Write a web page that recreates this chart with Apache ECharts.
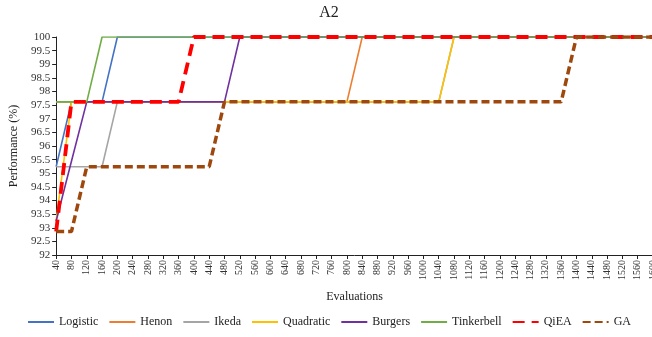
<!DOCTYPE html>
<html>
<head>
<meta charset="utf-8">
<script src="https://cdn.jsdelivr.net/npm/echarts@6/dist/echarts.min.js"></script>
<style>html,body{margin:0;padding:0;background:#fff;overflow:hidden;width:652px;height:337px}#c{width:658px;height:337px}</style>
</head>
<body>
<div id="c"></div>
<script>
const categories = ['40','80','120','160','200','240','280','320','360','400','440','480','520','560','600','640','680','720','760','800','840','880','920','960','1000','1040','1080','1120','1160','1200','1240','1280','1320','1360','1400','1440','1480','1520','1560','1600'];
const logistic   = [95.24,97.62,97.62,97.62,100,100,100,100,100,100,100,100,100,100,100,100,100,100,100,100,100,100,100,100,100,100,100,100,100,100,100,100,100,100,100,100,100,100,100,100];
const henon      = [97.62,97.62,97.62,97.62,97.62,97.62,97.62,97.62,97.62,97.62,97.62,97.62,97.62,97.62,97.62,97.62,97.62,97.62,97.62,97.62,100,100,100,100,100,100,100,100,100,100,100,100,100,100,100,100,100,100,100,100];
const ikeda      = [95.24,95.24,95.24,95.24,97.62,97.62,97.62,97.62,97.62,97.62,97.62,97.62,97.62,97.62,97.62,97.62,97.62,97.62,97.62,97.62,97.62,97.62,97.62,97.62,97.62,97.62,100,100,100,100,100,100,100,100,100,100,100,100,100,100];
const quadratic  = [93.25,97.62,97.62,97.62,97.62,97.62,97.62,97.62,97.62,97.62,97.62,97.62,97.62,97.62,97.62,97.62,97.62,97.62,97.62,97.62,97.62,97.62,97.62,97.62,97.62,97.62,100,100,100,100,100,100,100,100,100,100,100,100,100,100];
const burgers    = [93.25,95.44,97.62,97.62,97.62,97.62,97.62,97.62,97.62,97.62,97.62,97.62,100,100,100,100,100,100,100,100,100,100,100,100,100,100,100,100,100,100,100,100,100,100,100,100,100,100,100,100];
const tinkerbell = [97.62,97.62,97.62,100,100,100,100,100,100,100,100,100,100,100,100,100,100,100,100,100,100,100,100,100,100,100,100,100,100,100,100,100,100,100,100,100,100,100,100,100];
const qiea       = [92.86,97.62,97.62,97.62,97.62,97.62,97.62,97.62,97.62,100,100,100,100,100,100,100,100,100,100,100,100,100,100,100,100,100,100,100,100,100,100,100,100,100,100,100,100,100,100,100];
const ga         = [92.86,92.86,95.24,95.24,95.24,95.24,95.24,95.24,95.24,95.24,95.24,97.62,97.62,97.62,97.62,97.62,97.62,97.62,97.62,97.62,97.62,97.62,97.62,97.62,97.62,97.62,97.62,97.62,97.62,97.62,97.62,97.62,97.62,97.62,100,100,100,100,100,100];

const FONT = '"Liberation Serif", "Times New Roman", serif';
function solid(name, data, color) {
  return {name, type: 'line', data, symbol: 'none', showSymbol: false, color,
    lineStyle: {color, width: 1.6}};
}
const chart = echarts.init(document.getElementById('c'), null, {renderer: 'canvas'});
chart.setOption({
  animation: false,
  backgroundColor: '#fff',
  textStyle: {fontFamily: FONT},
  title: {text: 'A2', left: 'center', top: 0,
    textStyle: {fontFamily: FONT, fontSize: 16, fontWeight: 'normal', color: '#222'}},
  grid: {left: 55, width: 598, top: 37, height: 218, containLabel: false},
  xAxis: {
    type: 'category', data: categories, boundaryGap: false,
    name: 'Evaluations', nameLocation: 'middle', nameGap: 36,
    nameTextStyle: {fontFamily: FONT, fontSize: 12, color: '#222'},
    axisLine: {lineStyle: {color: '#222', width: 1}},
    axisTick: {show: true, interval: 0, alignWithLabel: true, length: 4, lineStyle: {color: '#222'}},
    axisLabel: {interval: 0, rotate: 90, fontFamily: FONT, fontSize: 10, color: '#333', margin: 5},
    splitLine: {show: false}
  },
  yAxis: {
    type: 'value', min: 92, max: 100, interval: 0.5,
    name: 'Performance (%)', nameLocation: 'middle', nameGap: 36, nameRotate: 90,
    nameTextStyle: {fontFamily: FONT, fontSize: 12, color: '#222'},
    axisLine: {show: true, lineStyle: {color: '#222', width: 1}},
    axisTick: {show: true, length: 4, lineStyle: {color: '#222'}},
    axisLabel: {fontFamily: FONT, fontSize: 11, color: '#333', margin: 6},
    splitLine: {show: false}
  },
  legend: {
    bottom: 4, left: 'center', itemWidth: 26, itemHeight: 10, itemGap: 10,
    itemStyle: {opacity: 0},
    textStyle: {fontFamily: FONT, fontSize: 12, color: '#222'},
    data: ['Logistic','Henon','Ikeda','Quadratic','Burgers','Tinkerbell','QiEA','GA']
  },
  series: [
    solid('Logistic', logistic, '#4472C4'),
    solid('Henon', henon, '#ED7D31'),
    solid('Ikeda', ikeda, '#A5A5A5'),
    solid('Quadratic', quadratic, '#FFC000'),
    solid('Burgers', burgers, '#7030A0'),
    solid('Tinkerbell', tinkerbell, '#70AD47'),
    {name: 'QiEA', type: 'line', data: qiea, symbol: 'none', showSymbol: false, color: '#FF0000',
      lineStyle: {color: '#FF0000', width: 3.8, type: [12, 7], cap: 'butt'}},
    {name: 'GA', type: 'line', data: ga, symbol: 'none', showSymbol: false, color: '#9E480E',
      lineStyle: {color: '#9E480E', width: 3.5, type: [8, 4], cap: 'butt'}}
  ]
});
</script>
</body>
</html>
